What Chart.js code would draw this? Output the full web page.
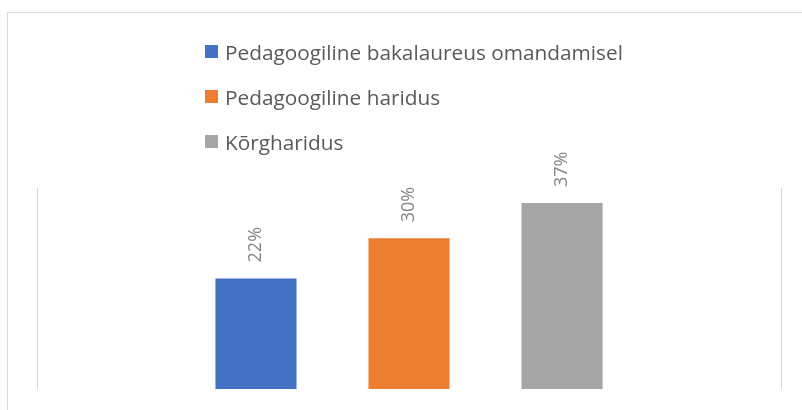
<!DOCTYPE html>
<html>
<head>
<meta charset="utf-8">
<script src="https://cdn.jsdelivr.net/npm/chart.js@4/dist/chart.umd.min.js"></script>
<style>
  html, body { margin: 0; padding: 0; background: #fff; overflow: hidden; }
  #wrap { position: relative; width: 802px; height: 410px; }
  #frame { position: absolute; left: 7px; top: 12px; width: 900px; height: 500px; border: 1px solid #d9d9d9; box-sizing: border-box; }
  #c { position: absolute; left: 0; top: 0; }
  #legend { position: absolute; left: 205px; top: 29px; font-family: "Open Sans", sans-serif; font-size: 20.8px; color: #595959; }
  .item { display: flex; align-items: center; height: 45px; white-space: nowrap; }
  .sw { width: 13px; height: 13px; margin-right: 7px; flex: none; }
</style>
</head>
<body>
<div id="wrap">
  <div id="frame"></div>
  <canvas id="c" width="802" height="410"></canvas>
  <div id="legend"></div>
</div>
<script>
const categories = [""];
const seriesNames = ["Pedagoogiline bakalaureus omandamisel", "Pedagoogiline haridus", "Kõrgharidus"];
const seriesValues = [[22], [30], [37]];
const seriesColors = ["#4472c4", "#ed7d31", "#a5a5a5"];
const yTicks = { min: 0, max: 40 };

const valueLabels = {
  id: "valueLabels",
  afterDatasetsDraw(chart) {
    const ctx = chart.ctx;
    ctx.save();
    ctx.font = '18px "Open Sans", sans-serif';
    ctx.fillStyle = "#858585";
    ctx.textAlign = "left";
    ctx.textBaseline = "middle";
    chart.data.datasets.forEach((ds, i) => {
      const meta = chart.getDatasetMeta(i);
      meta.data.forEach((el, j) => {
        ctx.save();
        ctx.translate(el.x, el.y - 16);
        ctx.rotate(-Math.PI / 2);
        ctx.fillText(ds.data[j] + "%", 0, 0);
        ctx.restore();
      });
    });
    ctx.restore();
  }
};

const chart = new Chart(document.getElementById("c"), {
  type: "bar",
  data: {
    labels: categories,
    datasets: seriesNames.map((n, i) => ({
      label: n,
      data: seriesValues[i],
      backgroundColor: seriesColors[i],
      borderWidth: 0,
      categoryPercentage: 0.617,
      barPercentage: 0.53
    }))
  },
  options: {
    responsive: false,
    animation: false,
    layout: { padding: { left: 37, right: 21, top: 188, bottom: 21 } },
    plugins: { legend: { display: false }, tooltip: { enabled: false } },
    scales: {
      x: {
        display: true,
        ticks: { display: false },
        border: { display: false },
        grid: { display: true, offset: true, drawTicks: false, color: "#d4d4d4", lineWidth: 1 }
      },
      y: { display: false, min: yTicks.min, max: yTicks.max }
    }
  },
  plugins: [valueLabels]
});

const leg = document.getElementById("legend");
chart.data.datasets.forEach(ds => {
  const it = document.createElement("div");
  it.className = "item";
  const sw = document.createElement("span");
  sw.className = "sw";
  sw.style.background = ds.backgroundColor;
  const tx = document.createElement("span");
  tx.textContent = ds.label;
  it.appendChild(sw);
  it.appendChild(tx);
  leg.appendChild(it);
});
</script>
</body>
</html>
